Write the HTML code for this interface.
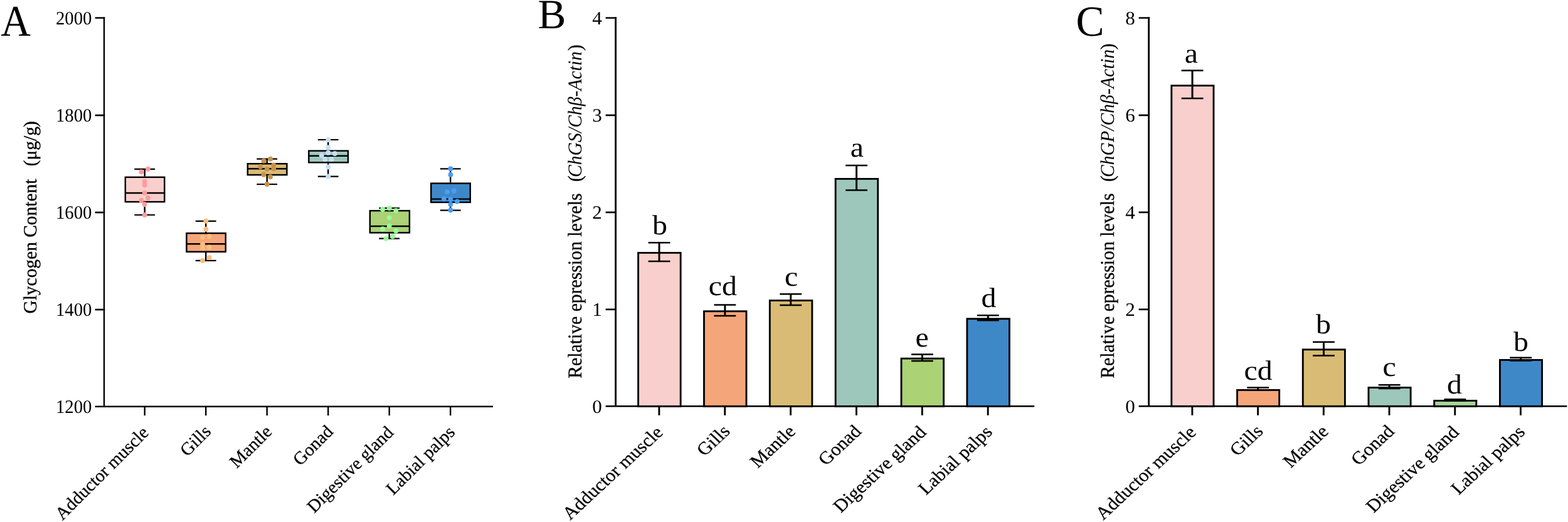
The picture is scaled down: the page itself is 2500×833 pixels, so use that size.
<!DOCTYPE html>
<html lang="en">
<head>
<meta charset="utf-8">
<title>Figure</title>
<style>
html, body { margin: 0; padding: 0; background: #fff; }
body { width: 2500px; height: 833px; overflow: hidden; }
svg { display: block; }
text { font-family: "Liberation Serif", "Times New Roman", serif; text-rendering: geometricPrecision; }
</style>
</head>
<body>
<svg width="2500" height="833" viewBox="0 0 2500 833" font-family='"Liberation Serif", "Times New Roman", serif' fill="#000">
<rect width="2500" height="833" fill="#fff"/>
<line x1="230.70" y1="269.95" x2="230.70" y2="281.55" stroke="#000" stroke-width="2.45" stroke-linecap="butt"/>
<line x1="230.70" y1="323.30" x2="230.70" y2="343.00" stroke="#000" stroke-width="2.45" stroke-linecap="butt"/>
<line x1="214.30" y1="269.95" x2="247.10" y2="269.95" stroke="#000" stroke-width="2.2" stroke-linecap="butt"/>
<line x1="214.30" y1="343.00" x2="247.10" y2="343.00" stroke="#000" stroke-width="2.2" stroke-linecap="butt"/>
<rect x="199.82" y="282.77" width="62.45" height="39.30" fill="#F8CFCC" stroke="#000" stroke-width="2.45"/>
<line x1="199.82" y1="307.90" x2="262.27" y2="307.90" stroke="#000" stroke-width="2.45" stroke-linecap="butt"/>
<ellipse cx="235.92" cy="269.76" rx="3.9" ry="4.05" fill="#FF9C9D"/>
<ellipse cx="225.36" cy="274.32" rx="3.9" ry="4.05" fill="#FF9C9D"/>
<ellipse cx="230.64" cy="289.68" rx="3.9" ry="4.05" fill="#FF9C9D"/>
<ellipse cx="230.64" cy="295.20" rx="3.9" ry="4.05" fill="#FF9C9D"/>
<ellipse cx="230.64" cy="307.92" rx="3.9" ry="4.05" fill="#FF9C9D"/>
<ellipse cx="235.92" cy="315.84" rx="3.9" ry="4.05" fill="#FF9C9D"/>
<ellipse cx="225.36" cy="319.68" rx="3.9" ry="4.05" fill="#FF9C9D"/>
<ellipse cx="230.64" cy="326.16" rx="3.9" ry="4.05" fill="#FF9C9D"/>
<ellipse cx="230.64" cy="342.96" rx="3.9" ry="4.05" fill="#FF9C9D"/>
<line x1="328.20" y1="352.80" x2="328.20" y2="370.95" stroke="#000" stroke-width="2.45" stroke-linecap="butt"/>
<line x1="328.20" y1="403.00" x2="328.20" y2="415.90" stroke="#000" stroke-width="2.45" stroke-linecap="butt"/>
<line x1="311.80" y1="352.80" x2="344.60" y2="352.80" stroke="#000" stroke-width="2.2" stroke-linecap="butt"/>
<line x1="311.80" y1="415.90" x2="344.60" y2="415.90" stroke="#000" stroke-width="2.2" stroke-linecap="butt"/>
<rect x="297.43" y="372.18" width="62.35" height="29.60" fill="#F5A57A" stroke="#000" stroke-width="2.45"/>
<line x1="297.43" y1="389.30" x2="359.77" y2="389.30" stroke="#000" stroke-width="2.45" stroke-linecap="butt"/>
<ellipse cx="328.32" cy="352.80" rx="3.9" ry="4.05" fill="#FDBE7D"/>
<ellipse cx="328.32" cy="365.76" rx="3.9" ry="4.05" fill="#FDBE7D"/>
<ellipse cx="323.04" cy="378.72" rx="3.9" ry="4.05" fill="#FDBE7D"/>
<ellipse cx="333.60" cy="377.28" rx="3.9" ry="4.05" fill="#FDBE7D"/>
<ellipse cx="323.04" cy="389.76" rx="3.9" ry="4.05" fill="#FDBE7D"/>
<ellipse cx="323.04" cy="395.52" rx="3.9" ry="4.05" fill="#FDBE7D"/>
<ellipse cx="333.60" cy="394.56" rx="3.9" ry="4.05" fill="#FDBE7D"/>
<ellipse cx="333.60" cy="411.12" rx="3.9" ry="4.05" fill="#FDBE7D"/>
<ellipse cx="323.04" cy="415.92" rx="3.9" ry="4.05" fill="#FDBE7D"/>
<line x1="425.70" y1="253.70" x2="425.70" y2="260.05" stroke="#000" stroke-width="2.45" stroke-linecap="butt"/>
<line x1="425.70" y1="280.30" x2="425.70" y2="294.00" stroke="#000" stroke-width="2.45" stroke-linecap="butt"/>
<line x1="409.30" y1="253.70" x2="442.10" y2="253.70" stroke="#000" stroke-width="2.2" stroke-linecap="butt"/>
<line x1="409.30" y1="294.00" x2="442.10" y2="294.00" stroke="#000" stroke-width="2.2" stroke-linecap="butt"/>
<rect x="394.83" y="261.27" width="62.55" height="17.80" fill="#D9BB75" stroke="#000" stroke-width="2.45"/>
<line x1="394.83" y1="269.30" x2="457.38" y2="269.30" stroke="#000" stroke-width="2.45" stroke-linecap="butt"/>
<ellipse cx="431.04" cy="253.68" rx="3.9" ry="4.05" fill="#C6934A"/>
<ellipse cx="420.48" cy="256.80" rx="3.9" ry="4.05" fill="#C6934A"/>
<ellipse cx="436.32" cy="263.52" rx="3.9" ry="4.05" fill="#C6934A"/>
<ellipse cx="415.20" cy="265.92" rx="3.9" ry="4.05" fill="#C6934A"/>
<ellipse cx="425.76" cy="269.76" rx="3.9" ry="4.05" fill="#C6934A"/>
<ellipse cx="436.32" cy="269.28" rx="3.9" ry="4.05" fill="#C6934A"/>
<ellipse cx="420.48" cy="278.64" rx="3.9" ry="4.05" fill="#C6934A"/>
<ellipse cx="431.04" cy="282.24" rx="3.9" ry="4.05" fill="#C6934A"/>
<ellipse cx="425.76" cy="294.00" rx="3.9" ry="4.05" fill="#C6934A"/>
<line x1="523.20" y1="223.00" x2="523.20" y2="239.45" stroke="#000" stroke-width="2.45" stroke-linecap="butt"/>
<line x1="523.20" y1="260.50" x2="523.20" y2="281.60" stroke="#000" stroke-width="2.45" stroke-linecap="butt"/>
<line x1="506.80" y1="223.00" x2="539.60" y2="223.00" stroke="#000" stroke-width="2.2" stroke-linecap="butt"/>
<line x1="506.80" y1="281.60" x2="539.60" y2="281.60" stroke="#000" stroke-width="2.2" stroke-linecap="butt"/>
<rect x="492.33" y="240.68" width="62.65" height="18.60" fill="#9DC7BB" stroke="#000" stroke-width="2.45"/>
<line x1="492.33" y1="248.70" x2="554.98" y2="248.70" stroke="#000" stroke-width="2.45" stroke-linecap="butt"/>
<ellipse cx="523.28" cy="223.04" rx="3.9" ry="4.05" fill="#C8DDF8"/>
<ellipse cx="523.28" cy="235.52" rx="3.9" ry="4.05" fill="#C8DDF8"/>
<ellipse cx="523.28" cy="243.68" rx="3.9" ry="4.05" fill="#C8DDF8"/>
<ellipse cx="533.84" cy="245.12" rx="3.9" ry="4.05" fill="#C8DDF8"/>
<ellipse cx="512.72" cy="248.00" rx="3.9" ry="4.05" fill="#C8DDF8"/>
<ellipse cx="518.00" cy="254.24" rx="3.9" ry="4.05" fill="#C8DDF8"/>
<ellipse cx="528.56" cy="254.24" rx="3.9" ry="4.05" fill="#C8DDF8"/>
<ellipse cx="523.28" cy="266.48" rx="3.9" ry="4.05" fill="#C8DDF8"/>
<ellipse cx="523.28" cy="281.60" rx="3.9" ry="4.05" fill="#C8DDF8"/>
<line x1="620.70" y1="332.20" x2="620.70" y2="335.05" stroke="#000" stroke-width="2.45" stroke-linecap="butt"/>
<line x1="620.70" y1="372.60" x2="620.70" y2="380.70" stroke="#000" stroke-width="2.45" stroke-linecap="butt"/>
<line x1="604.30" y1="332.20" x2="637.10" y2="332.20" stroke="#000" stroke-width="2.2" stroke-linecap="butt"/>
<line x1="604.30" y1="380.70" x2="637.10" y2="380.70" stroke="#000" stroke-width="2.2" stroke-linecap="butt"/>
<rect x="589.83" y="336.27" width="63.05" height="35.10" fill="#ABD275" stroke="#000" stroke-width="2.45"/>
<line x1="589.83" y1="361.00" x2="652.88" y2="361.00" stroke="#000" stroke-width="2.45" stroke-linecap="butt"/>
<ellipse cx="610.16" cy="334.16" rx="3.9" ry="4.05" fill="#98FB98"/>
<ellipse cx="620.72" cy="332.24" rx="3.9" ry="4.05" fill="#98FB98"/>
<ellipse cx="631.28" cy="336.08" rx="3.9" ry="4.05" fill="#98FB98"/>
<ellipse cx="620.72" cy="347.60" rx="3.9" ry="4.05" fill="#98FB98"/>
<ellipse cx="620.72" cy="360.56" rx="3.9" ry="4.05" fill="#98FB98"/>
<ellipse cx="610.16" cy="365.36" rx="3.9" ry="4.05" fill="#98FB98"/>
<ellipse cx="631.28" cy="368.48" rx="3.9" ry="4.05" fill="#98FB98"/>
<ellipse cx="626.00" cy="377.36" rx="3.9" ry="4.05" fill="#98FB98"/>
<ellipse cx="615.44" cy="380.72" rx="3.9" ry="4.05" fill="#98FB98"/>
<line x1="718.20" y1="269.40" x2="718.20" y2="291.35" stroke="#000" stroke-width="2.45" stroke-linecap="butt"/>
<line x1="718.20" y1="324.10" x2="718.20" y2="335.60" stroke="#000" stroke-width="2.45" stroke-linecap="butt"/>
<line x1="701.80" y1="269.40" x2="734.60" y2="269.40" stroke="#000" stroke-width="2.2" stroke-linecap="butt"/>
<line x1="701.80" y1="335.60" x2="734.60" y2="335.60" stroke="#000" stroke-width="2.2" stroke-linecap="butt"/>
<rect x="687.23" y="292.57" width="62.55" height="30.30" fill="#3F88C8" stroke="#000" stroke-width="2.45"/>
<line x1="687.23" y1="317.60" x2="749.77" y2="317.60" stroke="#000" stroke-width="2.45" stroke-linecap="butt"/>
<ellipse cx="718.40" cy="269.36" rx="3.9" ry="4.05" fill="#4B9DF5"/>
<ellipse cx="718.40" cy="278.72" rx="3.9" ry="4.05" fill="#4B9DF5"/>
<ellipse cx="713.12" cy="306.32" rx="3.9" ry="4.05" fill="#4B9DF5"/>
<ellipse cx="723.68" cy="304.64" rx="3.9" ry="4.05" fill="#4B9DF5"/>
<ellipse cx="707.84" cy="317.36" rx="3.9" ry="4.05" fill="#4B9DF5"/>
<ellipse cx="718.40" cy="318.08" rx="3.9" ry="4.05" fill="#4B9DF5"/>
<ellipse cx="728.96" cy="321.44" rx="3.9" ry="4.05" fill="#4B9DF5"/>
<ellipse cx="718.40" cy="326.00" rx="3.9" ry="4.05" fill="#4B9DF5"/>
<ellipse cx="718.40" cy="335.36" rx="3.9" ry="4.05" fill="#4B9DF5"/>
<line x1="166.00" y1="27.30" x2="166.00" y2="648.70" stroke="#000" stroke-width="2.4" stroke-linecap="butt"/>
<text transform="translate(146.50 659.05) scale(0.954 1)" font-size="30.2" text-anchor="end">1200</text>
<line x1="151.60" y1="494.06" x2="167.20" y2="494.06" stroke="#000" stroke-width="2.7" stroke-linecap="butt"/>
<text transform="translate(146.50 504.01) scale(0.954 1)" font-size="30.2" text-anchor="end">1400</text>
<line x1="151.60" y1="339.02" x2="167.20" y2="339.02" stroke="#000" stroke-width="2.7" stroke-linecap="butt"/>
<text transform="translate(146.50 348.98) scale(0.954 1)" font-size="30.2" text-anchor="end">1600</text>
<line x1="151.60" y1="183.99" x2="167.20" y2="183.99" stroke="#000" stroke-width="2.7" stroke-linecap="butt"/>
<text transform="translate(146.50 193.94) scale(0.954 1)" font-size="30.2" text-anchor="end">1800</text>
<line x1="151.60" y1="28.55" x2="167.20" y2="28.55" stroke="#000" stroke-width="2.5" stroke-linecap="butt"/>
<text transform="translate(146.50 38.90) scale(0.954 1)" font-size="30.2" text-anchor="end">2000</text>
<line x1="151.60" y1="648.70" x2="786.00" y2="648.70" stroke="#000" stroke-width="2.5" stroke-linecap="butt"/>
<line x1="230.70" y1="648.70" x2="230.70" y2="663.10" stroke="#000" stroke-width="2.4" stroke-linecap="butt"/>
<text transform="translate(238.60 692.00) rotate(-45)" font-size="28.7" text-anchor="end" stroke="#000" stroke-width="0.3">Adductor muscle</text>
<line x1="328.20" y1="648.70" x2="328.20" y2="663.10" stroke="#000" stroke-width="2.4" stroke-linecap="butt"/>
<text transform="translate(337.90 690.20) rotate(-45)" font-size="28.7" text-anchor="end" stroke="#000" stroke-width="0.3">Gills</text>
<line x1="425.70" y1="648.70" x2="425.70" y2="663.10" stroke="#000" stroke-width="2.4" stroke-linecap="butt"/>
<text transform="translate(435.07 690.53) rotate(-45)" font-size="28.7" text-anchor="end" stroke="#000" stroke-width="0.3">Mantle</text>
<line x1="523.20" y1="648.70" x2="523.20" y2="663.10" stroke="#000" stroke-width="2.4" stroke-linecap="butt"/>
<text transform="translate(532.64 690.46) rotate(-45)" font-size="28.7" text-anchor="end" stroke="#000" stroke-width="0.3">Gonad</text>
<line x1="620.70" y1="648.70" x2="620.70" y2="663.10" stroke="#000" stroke-width="2.4" stroke-linecap="butt"/>
<text transform="translate(628.81 691.79) rotate(-45)" font-size="28.7" text-anchor="end" stroke="#000" stroke-width="0.3">Digestive gland</text>
<line x1="718.20" y1="648.70" x2="718.20" y2="663.10" stroke="#000" stroke-width="2.4" stroke-linecap="butt"/>
<text transform="translate(726.81 691.29) rotate(-45)" font-size="28.7" text-anchor="end" stroke="#000" stroke-width="0.3">Labial palps</text>
<text transform="translate(1.20 57.00) scale(0.942 1)" font-size="70" text-anchor="start">A</text>
<text transform="translate(58.10 500.60) rotate(-90) scale(0.985 1)" font-size="29.9" text-anchor="start" stroke="#000" stroke-width="0.3">Glycogen Content <tspan dx="13.0">(</tspan>μg/g<tspan dx="-1">)</tspan></text>
<rect x="1017.62" y="403.43" width="67.55" height="244.93" fill="#F8CFCC" stroke="#000" stroke-width="2.85"/>
<line x1="1051.05" y1="387.30" x2="1051.05" y2="416.90" stroke="#000" stroke-width="3.0" stroke-linecap="butt"/>
<line x1="1033.65" y1="387.30" x2="1068.45" y2="387.30" stroke="#000" stroke-width="2.5" stroke-linecap="butt"/>
<line x1="1033.65" y1="416.90" x2="1068.45" y2="416.90" stroke="#000" stroke-width="2.5" stroke-linecap="butt"/>
<text transform="translate(1052.00 373.70) scale(1.08 1)" font-size="44.3" text-anchor="middle">b</text>
<rect x="1122.47" y="496.73" width="67.55" height="151.62" fill="#F5A57A" stroke="#000" stroke-width="2.85"/>
<line x1="1155.90" y1="486.50" x2="1155.90" y2="504.00" stroke="#000" stroke-width="3.0" stroke-linecap="butt"/>
<line x1="1138.50" y1="486.50" x2="1173.30" y2="486.50" stroke="#000" stroke-width="2.5" stroke-linecap="butt"/>
<line x1="1138.50" y1="504.00" x2="1173.30" y2="504.00" stroke="#000" stroke-width="2.5" stroke-linecap="butt"/>
<text transform="translate(1152.35 470.70) scale(1.08 1)" font-size="44.3" text-anchor="middle">cd</text>
<rect x="1227.33" y="479.53" width="67.55" height="168.82" fill="#D9BB75" stroke="#000" stroke-width="2.85"/>
<line x1="1260.75" y1="469.35" x2="1260.75" y2="487.00" stroke="#000" stroke-width="3.0" stroke-linecap="butt"/>
<line x1="1243.35" y1="469.35" x2="1278.15" y2="469.35" stroke="#000" stroke-width="2.5" stroke-linecap="butt"/>
<line x1="1243.35" y1="487.00" x2="1278.15" y2="487.00" stroke="#000" stroke-width="2.5" stroke-linecap="butt"/>
<text transform="translate(1261.70 456.20) scale(1.08 1)" font-size="44.3" text-anchor="middle">c</text>
<rect x="1332.17" y="285.43" width="67.55" height="362.93" fill="#9DC7BB" stroke="#000" stroke-width="2.85"/>
<line x1="1365.60" y1="264.00" x2="1365.60" y2="303.50" stroke="#000" stroke-width="3.0" stroke-linecap="butt"/>
<line x1="1348.20" y1="264.00" x2="1383.00" y2="264.00" stroke="#000" stroke-width="2.5" stroke-linecap="butt"/>
<line x1="1348.20" y1="303.50" x2="1383.00" y2="303.50" stroke="#000" stroke-width="2.5" stroke-linecap="butt"/>
<text transform="translate(1366.45 249.50) scale(1.08 1)" font-size="44.3" text-anchor="middle">a</text>
<rect x="1437.03" y="572.12" width="67.55" height="76.22" fill="#ABD275" stroke="#000" stroke-width="2.85"/>
<line x1="1470.45" y1="565.50" x2="1470.45" y2="576.10" stroke="#000" stroke-width="3.0" stroke-linecap="butt"/>
<line x1="1453.05" y1="565.50" x2="1487.85" y2="565.50" stroke="#000" stroke-width="2.5" stroke-linecap="butt"/>
<line x1="1453.05" y1="576.10" x2="1487.85" y2="576.10" stroke="#000" stroke-width="2.5" stroke-linecap="butt"/>
<text transform="translate(1470.00 553.30) scale(1.08 1)" font-size="44.3" text-anchor="middle">e</text>
<rect x="1541.88" y="508.73" width="67.55" height="139.62" fill="#3F88C8" stroke="#000" stroke-width="2.85"/>
<line x1="1575.30" y1="503.20" x2="1575.30" y2="511.20" stroke="#000" stroke-width="3.0" stroke-linecap="butt"/>
<line x1="1557.90" y1="503.20" x2="1592.70" y2="503.20" stroke="#000" stroke-width="2.5" stroke-linecap="butt"/>
<line x1="1557.90" y1="511.20" x2="1592.70" y2="511.20" stroke="#000" stroke-width="2.5" stroke-linecap="butt"/>
<text transform="translate(1576.45 490.20) scale(1.08 1)" font-size="44.3" text-anchor="middle">d</text>
<line x1="981.60" y1="27.30" x2="981.60" y2="648.35" stroke="#000" stroke-width="2.9" stroke-linecap="butt"/>
<text transform="translate(959.90 659.15) scale(1.03 1)" font-size="30.2" text-anchor="end">0</text>
<line x1="965.60" y1="493.80" x2="983.05" y2="493.80" stroke="#000" stroke-width="2.7" stroke-linecap="butt"/>
<text transform="translate(959.90 504.20) scale(1.03 1)" font-size="30.2" text-anchor="end">1</text>
<line x1="965.60" y1="338.85" x2="983.05" y2="338.85" stroke="#000" stroke-width="2.7" stroke-linecap="butt"/>
<text transform="translate(959.90 349.25) scale(1.03 1)" font-size="30.2" text-anchor="end">2</text>
<line x1="965.60" y1="183.90" x2="983.05" y2="183.90" stroke="#000" stroke-width="2.7" stroke-linecap="butt"/>
<text transform="translate(959.90 194.30) scale(1.03 1)" font-size="30.2" text-anchor="end">3</text>
<line x1="965.60" y1="28.55" x2="983.05" y2="28.55" stroke="#000" stroke-width="2.5" stroke-linecap="butt"/>
<text transform="translate(959.90 39.35) scale(1.03 1)" font-size="30.2" text-anchor="end">4</text>
<line x1="965.60" y1="648.35" x2="1649.15" y2="648.35" stroke="#000" stroke-width="2.5" stroke-linecap="butt"/>
<line x1="1050.90" y1="648.35" x2="1050.90" y2="662.75" stroke="#000" stroke-width="2.9" stroke-linecap="butt"/>
<text transform="translate(1058.76 691.65) scale(1.077 1) rotate(-45)" font-size="28.7" text-anchor="end" stroke="#000" stroke-width="0.3">Adductor muscle</text>
<line x1="1155.75" y1="648.35" x2="1155.75" y2="662.75" stroke="#000" stroke-width="2.9" stroke-linecap="butt"/>
<text transform="translate(1165.54 689.85) scale(1.077 1) rotate(-45)" font-size="28.7" text-anchor="end" stroke="#000" stroke-width="0.3">Gills</text>
<line x1="1260.60" y1="648.35" x2="1260.60" y2="662.75" stroke="#000" stroke-width="2.9" stroke-linecap="butt"/>
<text transform="translate(1270.04 690.18) scale(1.077 1) rotate(-45)" font-size="28.7" text-anchor="end" stroke="#000" stroke-width="0.3">Mantle</text>
<line x1="1365.45" y1="648.35" x2="1365.45" y2="662.75" stroke="#000" stroke-width="2.9" stroke-linecap="butt"/>
<text transform="translate(1374.96 690.11) scale(1.077 1) rotate(-45)" font-size="28.7" text-anchor="end" stroke="#000" stroke-width="0.3">Gonad</text>
<line x1="1470.30" y1="648.35" x2="1470.30" y2="662.75" stroke="#000" stroke-width="2.9" stroke-linecap="butt"/>
<text transform="translate(1478.38 691.44) scale(1.077 1) rotate(-45)" font-size="28.7" text-anchor="end" stroke="#000" stroke-width="0.3">Digestive gland</text>
<line x1="1575.15" y1="648.35" x2="1575.15" y2="662.75" stroke="#000" stroke-width="2.9" stroke-linecap="butt"/>
<text transform="translate(1583.77 690.94) scale(1.077 1) rotate(-45)" font-size="28.7" text-anchor="end" stroke="#000" stroke-width="0.3">Labial palps</text>
<text transform="translate(857.60 45.20) scale(1.01 1)" font-size="66.6" text-anchor="start">B</text>
<text transform="translate(927.00 603.70) rotate(-90) scale(0.952 1)" font-size="31.2" text-anchor="start" stroke="#000" stroke-width="0.3">Relative epression levels <tspan dx="11.7">(</tspan><tspan font-style="italic" stroke="none" dx="-3.1">ChGS/Chβ-Actin</tspan><tspan dx="0.9">)</tspan></text>
<rect x="1867.83" y="136.62" width="67.15" height="511.67" fill="#F8CFCC" stroke="#000" stroke-width="2.85"/>
<line x1="1901.05" y1="112.40" x2="1901.05" y2="157.00" stroke="#000" stroke-width="3.0" stroke-linecap="butt"/>
<line x1="1883.65" y1="112.40" x2="1918.45" y2="112.40" stroke="#000" stroke-width="2.5" stroke-linecap="butt"/>
<line x1="1883.65" y1="157.00" x2="1918.45" y2="157.00" stroke="#000" stroke-width="2.5" stroke-linecap="butt"/>
<text transform="translate(1899.40 100.00) scale(1.08 1)" font-size="44.3" text-anchor="middle">a</text>
<rect x="1972.55" y="622.42" width="67.15" height="25.87" fill="#F5A57A" stroke="#000" stroke-width="2.85"/>
<line x1="2005.77" y1="618.50" x2="2005.77" y2="622.80" stroke="#000" stroke-width="3.0" stroke-linecap="butt"/>
<line x1="1988.37" y1="618.50" x2="2023.17" y2="618.50" stroke="#000" stroke-width="2.5" stroke-linecap="butt"/>
<line x1="1988.37" y1="622.80" x2="2023.17" y2="622.80" stroke="#000" stroke-width="2.5" stroke-linecap="butt"/>
<text transform="translate(2006.12 605.80) scale(1.08 1)" font-size="44.3" text-anchor="middle">cd</text>
<rect x="2077.27" y="557.82" width="67.15" height="90.47" fill="#D9BB75" stroke="#000" stroke-width="2.85"/>
<line x1="2110.49" y1="545.70" x2="2110.49" y2="567.50" stroke="#000" stroke-width="3.0" stroke-linecap="butt"/>
<line x1="2093.09" y1="545.70" x2="2127.89" y2="545.70" stroke="#000" stroke-width="2.5" stroke-linecap="butt"/>
<line x1="2093.09" y1="567.50" x2="2127.89" y2="567.50" stroke="#000" stroke-width="2.5" stroke-linecap="butt"/>
<text transform="translate(2109.94 532.00) scale(1.08 1)" font-size="44.3" text-anchor="middle">b</text>
<rect x="2181.99" y="618.52" width="67.15" height="29.77" fill="#9DC7BB" stroke="#000" stroke-width="2.85"/>
<line x1="2215.21" y1="614.30" x2="2215.21" y2="620.10" stroke="#000" stroke-width="3.0" stroke-linecap="butt"/>
<line x1="2197.81" y1="614.30" x2="2232.61" y2="614.30" stroke="#000" stroke-width="2.5" stroke-linecap="butt"/>
<line x1="2197.81" y1="620.10" x2="2232.61" y2="620.10" stroke="#000" stroke-width="2.5" stroke-linecap="butt"/>
<text transform="translate(2215.16 599.90) scale(1.08 1)" font-size="44.3" text-anchor="middle">c</text>
<rect x="2286.71" y="639.42" width="67.15" height="8.87" fill="#A9D49A" stroke="#000" stroke-width="2.85"/>
<line x1="2319.93" y1="637.35" x2="2319.93" y2="639.60" stroke="#000" stroke-width="3.0" stroke-linecap="butt"/>
<line x1="2302.53" y1="637.35" x2="2337.33" y2="637.35" stroke="#000" stroke-width="2.5" stroke-linecap="butt"/>
<line x1="2302.53" y1="639.60" x2="2337.33" y2="639.60" stroke="#000" stroke-width="2.5" stroke-linecap="butt"/>
<text transform="translate(2319.08 628.20) scale(1.08 1)" font-size="44.3" text-anchor="middle">d</text>
<rect x="2391.43" y="574.42" width="67.15" height="73.87" fill="#3F88C8" stroke="#000" stroke-width="2.85"/>
<line x1="2424.65" y1="570.70" x2="2424.65" y2="575.40" stroke="#000" stroke-width="3.0" stroke-linecap="butt"/>
<line x1="2407.25" y1="570.70" x2="2442.05" y2="570.70" stroke="#000" stroke-width="2.5" stroke-linecap="butt"/>
<line x1="2407.25" y1="575.40" x2="2442.05" y2="575.40" stroke="#000" stroke-width="2.5" stroke-linecap="butt"/>
<text transform="translate(2425.00 560.20) scale(1.08 1)" font-size="44.3" text-anchor="middle">b</text>
<line x1="1831.60" y1="27.30" x2="1831.60" y2="648.30" stroke="#000" stroke-width="2.9" stroke-linecap="butt"/>
<text transform="translate(1809.90 659.10) scale(1.03 1)" font-size="30.2" text-anchor="end">0</text>
<line x1="1815.60" y1="493.76" x2="1833.05" y2="493.76" stroke="#000" stroke-width="2.7" stroke-linecap="butt"/>
<text transform="translate(1809.90 504.16) scale(1.03 1)" font-size="30.2" text-anchor="end">2</text>
<line x1="1815.60" y1="338.82" x2="1833.05" y2="338.82" stroke="#000" stroke-width="2.7" stroke-linecap="butt"/>
<text transform="translate(1809.90 349.22) scale(1.03 1)" font-size="30.2" text-anchor="end">4</text>
<line x1="1815.60" y1="183.89" x2="1833.05" y2="183.89" stroke="#000" stroke-width="2.7" stroke-linecap="butt"/>
<text transform="translate(1809.90 194.29) scale(1.03 1)" font-size="30.2" text-anchor="end">6</text>
<line x1="1815.60" y1="28.55" x2="1833.05" y2="28.55" stroke="#000" stroke-width="2.5" stroke-linecap="butt"/>
<text transform="translate(1809.90 39.35) scale(1.03 1)" font-size="30.2" text-anchor="end">8</text>
<line x1="1815.60" y1="648.30" x2="2498.40" y2="648.30" stroke="#000" stroke-width="2.5" stroke-linecap="butt"/>
<line x1="1900.90" y1="648.30" x2="1900.90" y2="662.70" stroke="#000" stroke-width="2.9" stroke-linecap="butt"/>
<text transform="translate(1908.76 691.60) scale(1.077 1) rotate(-45)" font-size="28.7" text-anchor="end" stroke="#000" stroke-width="0.3">Adductor muscle</text>
<line x1="2005.62" y1="648.30" x2="2005.62" y2="662.70" stroke="#000" stroke-width="2.9" stroke-linecap="butt"/>
<text transform="translate(2015.41 689.80) scale(1.077 1) rotate(-45)" font-size="28.7" text-anchor="end" stroke="#000" stroke-width="0.3">Gills</text>
<line x1="2110.34" y1="648.30" x2="2110.34" y2="662.70" stroke="#000" stroke-width="2.9" stroke-linecap="butt"/>
<text transform="translate(2119.78 690.13) scale(1.077 1) rotate(-45)" font-size="28.7" text-anchor="end" stroke="#000" stroke-width="0.3">Mantle</text>
<line x1="2215.06" y1="648.30" x2="2215.06" y2="662.70" stroke="#000" stroke-width="2.9" stroke-linecap="butt"/>
<text transform="translate(2224.57 690.06) scale(1.077 1) rotate(-45)" font-size="28.7" text-anchor="end" stroke="#000" stroke-width="0.3">Gonad</text>
<line x1="2319.78" y1="648.30" x2="2319.78" y2="662.70" stroke="#000" stroke-width="2.9" stroke-linecap="butt"/>
<text transform="translate(2327.86 691.39) scale(1.077 1) rotate(-45)" font-size="28.7" text-anchor="end" stroke="#000" stroke-width="0.3">Digestive gland</text>
<line x1="2424.50" y1="648.30" x2="2424.50" y2="662.70" stroke="#000" stroke-width="2.9" stroke-linecap="butt"/>
<text transform="translate(2433.12 690.89) scale(1.077 1) rotate(-45)" font-size="28.7" text-anchor="end" stroke="#000" stroke-width="0.3">Labial palps</text>
<text transform="translate(1715.60 56.60) scale(0.985 1)" font-size="68.6" text-anchor="start">C</text>
<text transform="translate(1775.90 603.70) rotate(-90) scale(0.952 1)" font-size="31.2" text-anchor="start" stroke="#000" stroke-width="0.3">Relative epression levels <tspan dx="11.7">(</tspan><tspan font-style="italic" stroke="none" dx="-3.1">ChGP/Chβ-Actin</tspan><tspan dx="-0.6">)</tspan></text>
</svg>
</body>
</html>
